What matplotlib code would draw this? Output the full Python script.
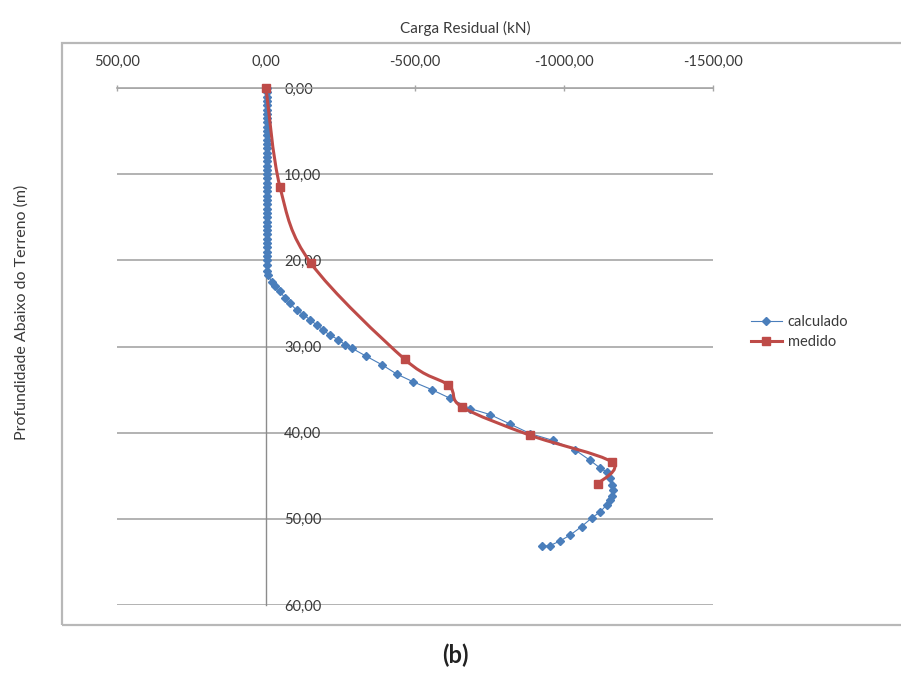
import matplotlib
matplotlib.use("Agg")
import matplotlib.pyplot as plt
from matplotlib.path import Path
from matplotlib.patches import PathPatch, Rectangle
from matplotlib.lines import Line2D
from matplotlib.ticker import FuncFormatter

plt.rcParams['font.family'] = ['Lato', 'DejaVu Sans']

# Residual load profile along the pile
calc_depth = [0.0, 0.5, 1.0, 1.5, 2.0, 2.5, 3.0, 3.5, 4.0, 4.5, 5.0, 5.5, 6.0, 6.5,
              7.0, 7.5, 8.0, 8.5, 9.0, 9.5, 10.0, 10.5, 11.0, 11.5, 12.0, 12.5, 13.0,
              13.5, 14.0, 14.5, 15.0, 15.5, 16.0, 16.5, 17.0, 17.5, 18.0, 18.5, 19.0,
              19.5, 20.0, 20.5, 21.2, 21.7, 22.5, 23.0, 23.6, 24.4, 25.0, 25.8, 26.3,
              26.9, 27.5, 28.1, 28.7, 29.2, 29.8, 30.2, 31.1, 32.1, 33.2, 34.1, 35.0,
              36.0, 37.2, 37.9, 39.0, 40.1, 40.9, 42.0, 43.2, 44.1, 44.6, 45.3, 46.1,
              46.6, 47.3, 47.8, 48.4, 49.2, 49.9, 50.9, 51.9, 52.6, 53.1, 53.2]
calc_load = [-3, -3, -3, -3, -3, -3, -3, -3, -3, -3, -3, -3, -3, -3,
             -3, -3, -3, -3, -3, -3, -3, -3, -3, -3, -3, -3, -3,
             -3, -3, -3, -3, -3, -3, -3, -3, -3, -3, -3, -3,
             -3, -3, -3, -5, -8, -19, -30, -47, -64, -81, -103, -125,
             -148, -170, -192, -215, -243, -265, -288, -335, -388, -439, -494, -556,
             -617, -685, -752, -819, -886, -963, -1037, -1087, -1121, -1145, -1155, -1160,
             -1165, -1160, -1154, -1143, -1121, -1093, -1059, -1020, -985, -953, -926]

meas_depth = [0.0, 11.5, 20.3, 31.5, 34.5, 37.0, 40.3, 43.4, 45.9]
meas_load = [0, -47, -150, -466, -612, -657, -886, -1160, -1115]

load_ticks = [500, 0, -500, -1000, -1500]
depth_ticks = [0, 10, 20, 30, 40, 50, 60]

series_names = ['calculado', 'medido']
blue = '#4A7EBB'
red = '#BE4B48'
grid_gray = '#A6A6A6'
text_col = '#3A3A3A'


def smooth_path(xs, ys):
    """Excel-style smoothed line through the points (cubic Bezier segments)."""
    pts = list(zip(xs, ys))
    n = len(pts)
    verts = [pts[0]]
    codes = [Path.MOVETO]
    for i in range(n - 1):
        p0 = pts[i - 1] if i > 0 else pts[i]
        p1 = pts[i]
        p2 = pts[i + 1]
        p3 = pts[i + 2] if i + 2 < n else pts[i + 1]
        c1 = (p1[0] + (p2[0] - p0[0]) / 6, p1[1] + (p2[1] - p0[1]) / 6)
        c2 = (p2[0] - (p3[0] - p1[0]) / 6, p2[1] - (p3[1] - p1[1]) / 6)
        verts += [c1, c2, p2]
        codes += [Path.CURVE4] * 3
    return Path(verts, codes)


fig = plt.figure(figsize=(9.01, 6.75), dpi=100)
ax = fig.add_axes([117 / 901, 1 - 605 / 675, 596 / 901, 517 / 675])
ax.set_xlim(500, -1500)
ax.set_ylim(60, 0)

fmt = FuncFormatter(lambda v, _: f"{v:.2f}".replace('.', ','))

# Load axis along the top
ax.xaxis.tick_top()
ax.set_xticks(load_ticks)
ax.xaxis.set_major_formatter(fmt)
ax.tick_params(axis='x', direction='inout', length=5, width=1, color=grid_gray,
               pad=11, labelsize=10.5, labelcolor=text_col)

# Depth axis crossing at zero load, labels on its right
ax.spines['right'].set_position(('data', 0))
ax.yaxis.tick_right()
ax.set_yticks(depth_ticks)
ax.yaxis.set_major_formatter(fmt)
ax.tick_params(axis='y', length=0, pad=13, labelsize=10.5, labelcolor=text_col)

for side in ['left', 'bottom']:
    ax.spines[side].set_visible(False)
ax.spines['top'].set_color(grid_gray)
ax.spines['top'].set_linewidth(1.2)
ax.spines['right'].set_color('#8C8C8C')
ax.spines['right'].set_linewidth(1.0)

ax.yaxis.grid(True, color=grid_gray, lw=1.2)
ax.set_axisbelow(True)

# Calculated profile
ax.plot(calc_load, calc_depth, color=blue, lw=0.8, marker='D', ms=3.6,
        mfc=blue, mec=blue, zorder=3, clip_on=False)

# Measured profile (smoothed line plus markers)
ax.add_patch(PathPatch(smooth_path(meas_load, meas_depth), fill=False,
                       ec=red, lw=2.2, zorder=4, capstyle='round', joinstyle='round'))
ax.plot(meas_load, meas_depth, ls='none', marker='s', ms=6, color=red, zorder=5,
        clip_on=False)

handles = [Line2D([], [], color=blue, lw=0.8, marker='D', ms=3.6),
           Line2D([], [], color=red, lw=2.2, marker='s', ms=6)]
fig.legend(handles, series_names, loc='center left',
           bbox_to_anchor=(738 / 901, 1 - 332 / 675), frameon=False,
           fontsize=10.5, handlelength=2.1, handletextpad=0.4, labelspacing=0.45,
           labelcolor=text_col)

# Chart frame and captions
fig.patches.append(Rectangle((62 / 901, 1 - 625 / 675), (901 - 62) / 901 + 0.01,
                             (625 - 43) / 675, transform=fig.transFigure,
                             fill=False, ec='#B8B8B8', lw=1.6))
fig.text(465 / 901, 1 - 28 / 675, 'Carga Residual (kN)', ha='center', va='center',
         fontsize=11, color=text_col)
fig.text(22 / 901, 1 - 312 / 675, 'Profundidade Abaixo do Terreno (m)', ha='center',
         va='center', rotation=90, fontsize=11.5, color=text_col)
fig.text(455 / 901, 1 - 655 / 675, '(b)', ha='center', va='center', fontsize=17,
         fontweight='bold', color='#222222')

fig.savefig('out.png', dpi=100)
